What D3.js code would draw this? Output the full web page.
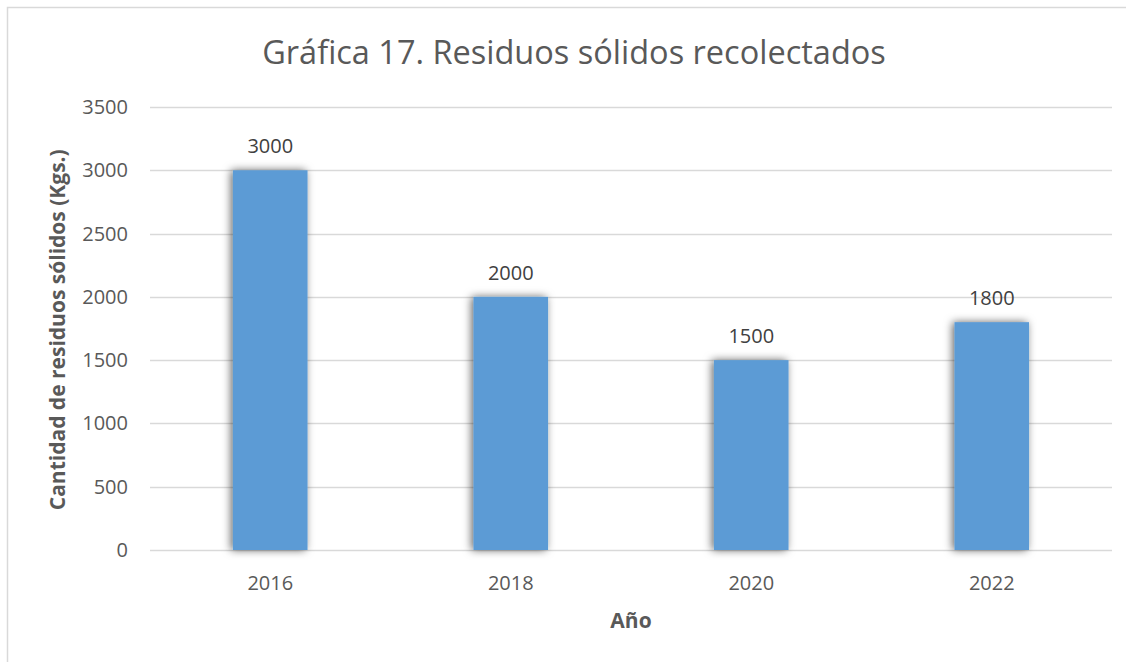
<!DOCTYPE html>
<html lang="es">
<head>
    <meta charset="UTF-8">
    <script src="https://d3js.org/d3.v7.min.js"></script>
    <title>Gráfica 17</title>
    <style>
        body { margin: 0; background: #fff; }
        text { font-family: "Open Sans", "Liberation Sans", sans-serif; fill: #595959; }
    </style>
</head>
<body>
    <div id="chart"></div>
    <script>
        const years = ["2016", "2018", "2020", "2022"];
        const residuos = [3000, 2000, 1500, 1800];
        const yTicks = [0, 500, 1000, 1500, 2000, 2500, 3000, 3500];

        const width = 1126;
        const height = 662;
        const margin = { top: 107, right: 14, bottom: 112, left: 150 };

        const svg = d3.select("#chart")
            .append("svg")
            .attr("width", width)
            .attr("height", height);

        // bar glow
        const defs = svg.append("defs");
        defs.append("filter")
            .attr("id", "shadow")
            .attr("x", "-40%").attr("y", "-10%")
            .attr("width", "180%").attr("height", "120%")
            .append("feDropShadow")
            .attr("dx", -2).attr("dy", 0)
            .attr("stdDeviation", 4)
            .attr("flood-color", "#000")
            .attr("flood-opacity", 0.6);

        // outer frame
        svg.append("rect")
            .attr("x", 7.5).attr("y", 7.5)
            .attr("width", 1140).attr("height", 700)
            .attr("fill", "none")
            .attr("stroke", "#d9d9d9")
            .attr("stroke-width", 1.5);

        const x = d3.scaleBand()
            .domain(years)
            .range([margin.left, width - margin.right])
            .paddingInner(0.69)
            .paddingOuter(0.345);

        const y = d3.scaleLinear()
            .domain([0, 3500])
            .range([height - margin.bottom, margin.top]);

        // gridlines
        svg.append("g")
            .selectAll("line")
            .data(yTicks)
            .join("line")
            .attr("x1", margin.left)
            .attr("x2", width - margin.right)
            .attr("y1", d => Math.round(y(d)) + 0.5)
            .attr("y2", d => Math.round(y(d)) + 0.5)
            .attr("stroke", "#d9d9d9")
            .attr("stroke-width", 1.3);

        // y tick labels
        svg.append("g")
            .selectAll("text")
            .data(yTicks)
            .join("text")
            .attr("x", 128)
            .attr("y", d => y(d))
            .attr("dy", "0.35em")
            .attr("text-anchor", "end")
            .attr("font-size", 20)
            .text(d => d);

        // bars
        const data = years.map((yr, i) => ({ year: yr, value: residuos[i] }));

        svg.append("g")
            .selectAll("rect")
            .data(data)
            .join("rect")
            .attr("x", d => x(d.year))
            .attr("y", d => y(d.value))
            .attr("width", x.bandwidth())
            .attr("height", d => y(0) - y(d.value))
            .attr("fill", "#5b9bd5")
            .attr("filter", "url(#shadow)");

        // value labels
        svg.append("g")
            .selectAll("text")
            .data(data)
            .join("text")
            .attr("x", d => x(d.year) + x.bandwidth() / 2)
            .attr("y", d => y(d.value) - 17)
            .attr("text-anchor", "middle")
            .attr("font-size", 20)
            .style("fill", "#404040")
            .text(d => d.value);

        // x tick labels
        svg.append("g")
            .selectAll("text")
            .data(years)
            .join("text")
            .attr("x", d => x(d) + x.bandwidth() / 2)
            .attr("y", 590)
            .attr("text-anchor", "middle")
            .attr("font-size", 20)
            .text(d => d);

        // titles
        svg.append("text")
            .attr("x", 574)
            .attr("y", 64)
            .attr("text-anchor", "middle")
            .attr("font-size", 32.5)
            .text("Gráfica 17. Residuos sólidos recolectados");

        svg.append("text")
            .attr("x", 631)
            .attr("y", 628)
            .attr("text-anchor", "middle")
            .attr("font-size", 21)
            .attr("font-weight", "bold")
            .text("Año");

        svg.append("text")
            .attr("transform", "translate(65," + (y(1740)) + ") rotate(-90)")
            .attr("text-anchor", "middle")
            .attr("font-size", 21)
            .attr("font-weight", "bold")
            .text("Cantidad de residuos sólidos (Kgs.)");
    </script>
</body>
</html>
